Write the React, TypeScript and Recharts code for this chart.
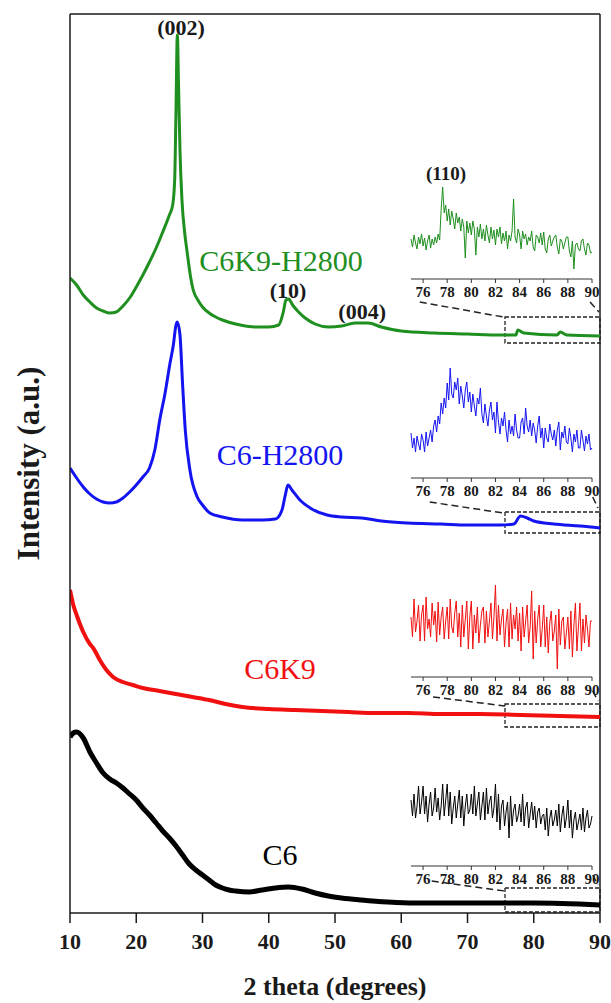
import { LineChart, Line, XAxis, YAxis, ReferenceLine, ReferenceArea, ReferenceDot } from 'recharts';

const FONT = '"Liberation Serif", "Times New Roman", serif';
const INK = '#1a1a1a';

// main pattern: [2theta, intensity (a.u., offset stacked)]
const c6k9h2800: [number, number][] = [
  [10, 635], [11, 628], [12, 618], [13, 611], [14, 605], [15, 602], [16, 600], [17, 601], [18, 607], [19, 615],
  [20, 626], [21, 638], [22, 651], [23, 665], [24, 681], [25, 698], [25.5, 708], [25.8, 733], [26.0, 803],
  [26.2, 878], [26.4, 823], [26.6, 763], [26.9, 713], [27.3, 681], [27.7, 660], [28.2, 636], [28.6, 623],
  [29.3, 613], [30, 606], [31, 600], [32, 596], [33, 593], [35, 589], [38, 586], [40, 586], [41.5, 588],
  [42.2, 601], [42.6, 613], [43, 614], [43.6, 608], [44.5, 601], [45.5, 595], [47, 589], [49, 586], [51, 587],
  [53, 590], [55, 590], [57, 586], [60, 582], [65, 580], [70, 579], [75, 578], [77.3, 578], [77.6, 583],
  [78.5, 580], [83.5, 578], [84, 581], [85, 578], [90, 577],
];
const c6h2800: [number, number][] = [
  [10, 445], [11, 435], [12, 426], [13, 419], [14, 414], [15, 411], [16, 410], [17, 411], [18, 415], [19, 421],
  [20, 428], [21, 436], [22, 445], [22.8, 463], [23.6, 495], [24.3, 518], [25.1, 550], [25.6, 568], [26.0, 588],
  [26.2, 591], [26.6, 578], [27.0, 528], [27.4, 483], [28.1, 443], [29.2, 416], [30, 408], [31.1, 400], [33, 396],
  [36, 393], [39, 393], [41, 394], [42, 403], [42.5, 418], [42.9, 428], [43.5, 423], [44.7, 413], [46.5, 404],
  [48.8, 398], [51, 396], [54, 395], [57, 392], [61, 390], [66, 389], [70, 388], [75, 388], [77, 389], [78, 397],
  [79, 395], [80, 392], [83, 389], [87, 387], [90, 385],
];
const c6k9: [number, number][] = [
  [10, 323], [10.5, 308], [11, 298], [12, 281], [13, 269], [13.5, 265], [14.5, 253], [15.5, 243], [16.5, 236],
  [18, 231], [19.5, 228], [21, 225], [23.5, 222], [26, 219], [28.5, 216], [31, 213], [33.5, 209], [36, 206],
  [40, 204], [44, 203], [48, 202], [52, 201], [56, 200], [61, 200], [66, 199], [72, 199], [78, 198], [84, 197],
  [90, 196],
];
const c6: [number, number][] = [
  [10, 176], [10.5, 180], [11, 181], [12, 175], [13, 161], [14, 150], [15, 140], [16, 134], [17, 130], [18, 125],
  [19, 119], [20, 113], [21, 105], [22, 98], [23, 90], [24, 82], [25, 75], [26, 67], [27, 58], [28, 49], [29, 43],
  [30, 38], [31, 33], [32, 28], [33, 25], [34, 23], [35, 22], [37, 21], [39, 23], [41, 25], [43, 26], [45, 24],
  [47, 20], [49, 17], [51, 15], [54, 13], [58, 11], [62, 10], [70, 10], [80, 10], [90, 8],
];

const mainTicks = [10, 20, 30, 40, 50, 60, 70, 80, 90];
const insetTicks = [76, 78, 80, 82, 84, 86, 88, 90];

// inset patterns, 75-90 deg in 0.125 deg steps (one row per degree)
const insetTheta = Array.from({ length: 121 }, (_, i) => 75 + i * 0.125);
const insetC6K9H2800 = [
  40, 32, 44, 36, 30, 42, 35, 45,
  33, 41, 29, 38, 44, 31, 40, 34,
  42, 36, 45, 39, 70, 92, 66, 74,
  58, 70, 54, 68, 60, 50, 66, 56,
  62, 48, 60, 52, 21, 58, 46, 56,
  44, 58, 50, 24, 52, 42, 55, 40,
  50, 38, 54, 44, 36, 52, 40, 49,
  34, 50, 42, 52, 35, 46, 38, 48,
  30, 44, 38, 48, 80, 42, 36, 50,
  44, 30, 48, 40, 45, 34, 42, 38,
  48, 32, 28, 44, 42, 36, 46, 34,
  47, 30, 26, 40, 44, 33, 38, 42,
  44, 32, 25, 40, 38, 30, 36, 42,
  42, 28, 22, 38, 10, 34, 36, 30,
  28, 38, 40, 30, 24, 36, 34, 26,
  27,
];
const insetC6H2800 = [
  45, 30, 40, 26, 42, 34, 28, 44,
  38, 26, 46, 32, 40, 48, 36, 52,
  58, 46, 62, 54, 75, 64, 80, 70,
  95, 78, 110, 84, 80, 96, 88, 100,
  74, 92, 82, 70, 88, 96, 76, 86,
  66, 84, 72, 62, 80, 74, 90, 64,
  55, 74, 62, 52, 68, 76, 58, 66,
  45, 76, 56, 44, 60, 52, 66, 48,
  36, 58, 44, 52, 42, 64, 48, 40,
  40, 56, 60, 44, 70, 52, 46, 58,
  42, 55, 48, 35, 52, 62, 40, 50,
  30, 50, 40, 36, 54, 44, 38, 48,
  32, 48, 56, 28, 46, 40, 52, 36,
  34, 50, 40, 26, 44, 36, 48, 30,
  30, 48, 38, 27, 42, 34, 44, 28,
  30,
];
const insetC6K9 = [
  60, 40, 78, 45, 56, 72, 36, 62,
  72, 36, 80, 48, 58, 40, 74, 52,
  66, 35, 75, 42, 60, 70, 38, 56,
  70, 38, 78, 50, 44, 64, 76, 40,
  64, 30, 72, 40, 58, 76, 28, 60,
  76, 28, 62, 44, 70, 34, 52, 66,
  70, 34, 66, 40, 56, 74, 38, 60,
  92, 36, 72, 42, 58, 68, 30, 54,
  68, 30, 74, 38, 62, 48, 70, 36,
  64, 26, 70, 40, 56, 72, 34, 50,
  86, 18, 66, 34, 58, 72, 30, 48,
  72, 30, 60, 24, 54, 66, 36, 46,
  62, 8, 68, 32, 56, 60, 28, 44,
  60, 28, 66, 20, 52, 74, 26, 50,
  74, 26, 58, 34, 62, 48, 30, 56,
  56,
];
const insetC6 = [
  66, 50, 72, 48, 60, 80, 52, 64,
  80, 52, 70, 44, 62, 74, 50, 58,
  78, 54, 68, 46, 60, 82, 50, 66,
  82, 50, 74, 42, 58, 70, 48, 62,
  76, 48, 70, 40, 60, 72, 52, 56,
  72, 52, 80, 50, 62, 74, 46, 60,
  74, 46, 78, 52, 64, 70, 48, 58,
  82, 44, 72, 36, 60, 66, 40, 54,
  64, 28, 70, 40, 56, 62, 44, 50,
  62, 44, 72, 40, 58, 64, 38, 52,
  64, 46, 60, 38, 54, 58, 42, 50,
  52, 36, 58, 30, 48, 56, 40, 46,
  56, 40, 62, 34, 50, 60, 38, 48,
  66, 38, 56, 28, 46, 54, 36, 44,
  52, 36, 58, 34, 48, 56, 38, 42,
  50,
];

// zoom boxes [2theta from, to, intensity low, high] and connector segments
const zoomBoxes = [
  [75.66, 90, 570, 596],
  [75.66, 90, 380, 401],
  [75.66, 90, 186, 209],
  [75.66, 90, 1, 25],
];
const connectors = [
  [62.8, 611, 75.4, 596], [88.5, 611, 89.85, 601],
  [64.3, 411, 75.4, 400], [88.9, 416, 89.7, 405],
  [64.8, 216, 75.66, 207], [88.9, 222, 89.7, 212],
  [64.6, 32, 75.66, 22], [88.9, 38, 89.7, 28],
];

const GREEN = '#1f8f1f';
const BLUE = '#1414f0';
const RED = '#f01010';
const BLACK = '#000000';

const seriesLabels = [
  { t: 41.85, v: 653, text: 'C6K9-H2800', color: GREEN },
  { t: 41.7, v: 459, text: 'C6-H2800', color: BLUE },
  { t: 41.7, v: 245, text: 'C6K9', color: RED },
  { t: 41.7, v: 59, text: 'C6', color: BLACK },
];
const peakLabels = [
  { t: 26.75, v: 886, text: '(002)' },
  { t: 42.9, v: 623, text: '(10)' },
  { t: 54.1, v: 602, text: '(004)' },
];

const toRows = (pts: [number, number][]) => pts.map(([t, v]) => ({ t, v }));

// centred text label drawn at a reference point
const textAt = (text: string, color: string, size: number, bold: boolean) => (p: any) => {
  const vb = p.viewBox || {};
  const x = (vb.cx ?? vb.x ?? 0) + (vb.width ? vb.width / 2 : 0);
  const y = (vb.cy ?? vb.y ?? 0) + (vb.height ? vb.height / 2 : 0);
  return (
    <text x={x} y={y} textAnchor="middle" dominantBaseline="central" fill={color}
      fontSize={size} fontWeight={bold ? 'bold' : 'normal'} fontFamily={FONT}>{text}</text>
  );
};

function Inset({ top, boxH, values, color, peak }: { top: number; boxH: number; values: number[]; color: string; peak?: string }) {
  const rows = insetTheta.map((t, i) => ({ t, v: values[i] }));
  const frame = { stroke: '#333', strokeWidth: 1 };
  return (
    <div style={{ position: 'absolute', left: 380, top: top - 5 }}>
      <LineChart width={226} height={boxH + 5 + 24} data={rows} margin={{ top: 5, right: 14, bottom: 0, left: 31 }}>
        <XAxis
          type="number" dataKey="t" domain={[75, 90]} ticks={insetTicks} interval={0} height={24}
          tickSize={4} tickMargin={3} axisLine={frame} tickLine={frame}
          tick={{ fill: INK, fontSize: 15, fontWeight: 'bold', fontFamily: FONT }}
        />
        <XAxis xAxisId="top" orientation="top" type="number" dataKey="t" domain={[75, 90]} height={0} tick={false} tickLine={false} axisLine={frame} />
        <YAxis
          type="number" domain={[0, boxH]} width={0} tick={false} tickLine={false} axisLine={frame}
          label={{
            content: (p: any) => {
              const vb = p.viewBox || { x: 31, y: 5, height: boxH };
              const x = vb.x - 16;
              const y = vb.y + vb.height / 2;
              return (
                <text x={x} y={y} transform={`rotate(-90 ${x} ${y})`} textAnchor="middle" dominantBaseline="central"
                  fill={INK} fontSize={13} fontWeight="bold" fontFamily={FONT}>Intensity (a.u.)</text>
              );
            },
          }}
        />
        <YAxis yAxisId="r" orientation="right" type="number" domain={[0, boxH]} width={0} tick={false} tickLine={false} axisLine={frame} />
        <Line dataKey="v" stroke={color} strokeWidth={1} dot={false} isAnimationActive={false} />
        {peak && (
          <ReferenceDot x={77.9} y={boxH - 26} r={0} fill="none" stroke="none"
            label={{ content: textAt(peak, INK, 19, true) }} />
        )}
      </LineChart>
    </div>
  );
}

export default function App() {
  const frame = { stroke: INK, strokeWidth: 1.5 };
  return (
    <div style={{ position: 'absolute', left: 0, top: 0, width: 611, height: 1003, background: '#fff', fontFamily: FONT }}>
      <LineChart width={611} height={1003} margin={{ top: 14, right: 11, bottom: 0, left: 0 }}>
        <XAxis
          type="number" dataKey="t" domain={[10, 90]} ticks={mainTicks} height={90}
          tickSize={10} tickMargin={10} axisLine={frame} tickLine={frame} allowDataOverflow
          tick={{ fill: INK, fontSize: 22, fontWeight: 'bold', fontFamily: FONT }}
          label={{ value: '2 theta (degrees)', position: 'insideBottom', offset: 8, fill: INK, fontSize: 26, fontWeight: 'bold', fontFamily: FONT }}
        />
        <YAxis
          type="number" domain={[0, 899]} width={70} tick={false} tickLine={false} axisLine={frame} allowDataOverflow
          label={{
            content: (p: any) => {
              const vb = p.viewBox || { x: 0, y: 14, height: 899 };
              const x = 28;
              const y = vb.y + vb.height / 2;
              return (
                <text x={x} y={y} transform={`rotate(-90 ${x} ${y})`} textAnchor="middle" dominantBaseline="central"
                  fill={INK} fontSize={31} fontWeight="bold" fontFamily={FONT}>Intensity (a.u.)</text>
              );
            },
          }}
        />
        <ReferenceLine y={899} stroke={INK} strokeWidth={1.5} />
        <ReferenceLine x={90} stroke={INK} strokeWidth={1.5} />

        <Line data={toRows(c6)} dataKey="v" type="monotone" stroke={BLACK} strokeWidth={5} dot={false} isAnimationActive={false} />
        <Line data={toRows(c6k9)} dataKey="v" type="monotone" stroke={RED} strokeWidth={4} dot={false} isAnimationActive={false} />
        <Line data={toRows(c6h2800)} dataKey="v" type="monotone" stroke={BLUE} strokeWidth={3} dot={false} isAnimationActive={false} />
        <Line data={toRows(c6k9h2800)} dataKey="v" type="monotone" stroke={GREEN} strokeWidth={3} dot={false} isAnimationActive={false} />

        {zoomBoxes.map(([x1, x2, y1, y2], i) => (
          <ReferenceArea key={`b${i}`} x1={x1} x2={x2} y1={y1} y2={y2} fill="none" fillOpacity={0}
            stroke="#222" strokeWidth={1.3} strokeDasharray="4 2" />
        ))}
        {connectors.map(([xa, ya, xb, yb], i) => (
          <ReferenceLine key={`c${i}`} segment={[{ x: xa, y: ya }, { x: xb, y: yb }]}
            stroke="#222" strokeWidth={1.5} strokeDasharray="7 4" />
        ))}
        {peakLabels.map((l) => (
          <ReferenceDot key={l.text} x={l.t} y={l.v} r={0} fill="none" stroke="none"
            label={{ content: textAt(l.text, INK, 22, true) }} />
        ))}
        {seriesLabels.map((l) => (
          <ReferenceDot key={l.text} x={l.t} y={l.v} r={0} fill="none" stroke="none"
            label={{ content: textAt(l.text, l.color, 30, false) }} />
        ))}
      </LineChart>

      <Inset top={147} boxH={132} values={insetC6K9H2800} color={GREEN} peak="(110)" />
      <Inset top={345} boxH={133} values={insetC6H2800} color={BLUE} />
      <Inset top={543} boxH={134} values={insetC6K9} color={RED} />
      <Inset top={732} boxH={134} values={insetC6} color={BLACK} />
    </div>
  );
}
